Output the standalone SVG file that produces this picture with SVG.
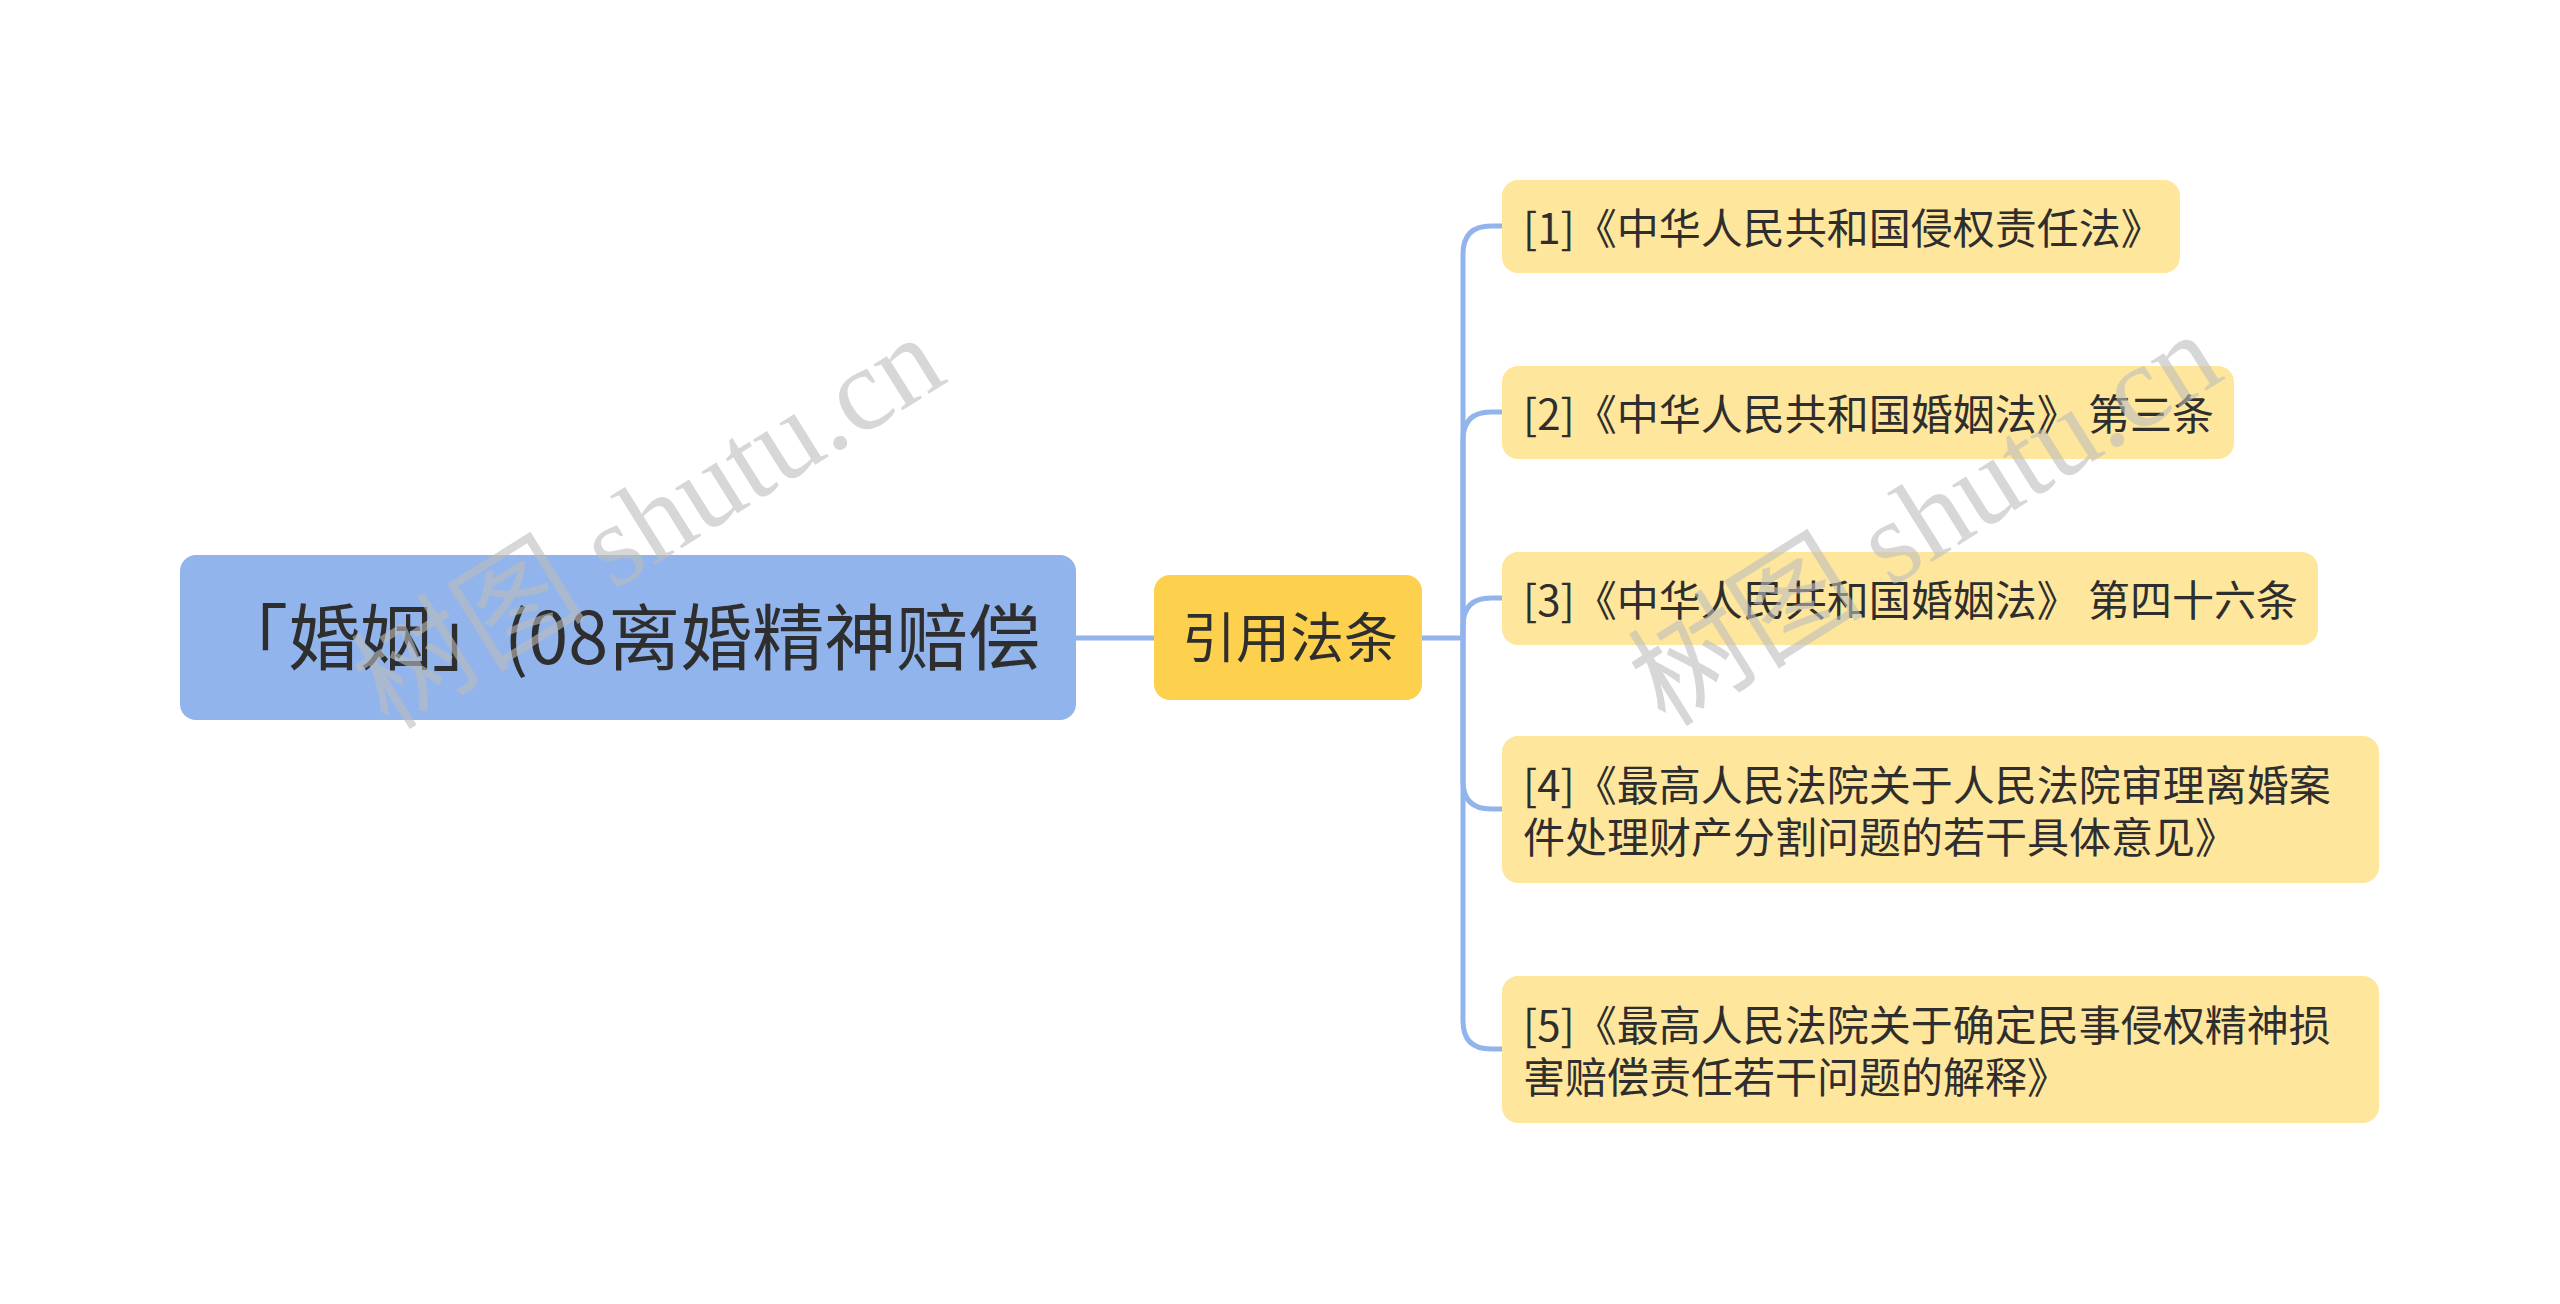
<svg xmlns="http://www.w3.org/2000/svg" width="2560" height="1304" viewBox="0 0 2560 1304">
<style>
.t{font-family:"Noto Sans CJK SC","Noto Sans",sans-serif;fill:#2e2e2e}
.leaf rect{fill:#fee69c}
.leaf text{font-size:42px}
.conn{fill:none;stroke:#92b4ec;stroke-width:5}
.wm{font-family:"Liberation Serif","Noto Sans CJK SC",serif;font-size:118px;fill:#bdbdbd;fill-opacity:0.6}
</style>
<rect width="2560" height="1304" fill="#ffffff"/>
<g id="connectors">
<path class="conn" d="M1076 638 H1154"/>
<path class="conn" d="M1422 638 H1463"/>
<path class="conn" d="M1463 638 V254 Q1463 226 1491 226 H1502"/>
<path class="conn" d="M1463 638 V440 Q1463 412 1491 412 H1502"/>
<path class="conn" d="M1463 638 V626 Q1463 598 1491 598 H1502"/>
<path class="conn" d="M1463 638 V781 Q1463 809 1491 809 H1502"/>
<path class="conn" d="M1463 638 V1021 Q1463 1049 1491 1049 H1502"/>
</g>
<g id="root">
<rect x="180" y="555" width="896" height="165" rx="16" fill="#92b4ec"/>
<text class="t" x="216" y="664" font-size="72">「婚姻」(08离婚精神赔偿</text>
</g>
<g id="mid">
<rect x="1154" y="575" width="268" height="125" rx="16" fill="#fdd14d"/>
<text class="t" x="1290" y="658" font-size="54" text-anchor="middle">引用法条</text>
</g>
<g id="leaf1" class="leaf">
<rect x="1502" y="180" width="678" height="93" rx="16"/>
<text class="t" x="1523" y="244">[1]《中华人民共和国侵权责任法》</text>
</g>
<g id="leaf2" class="leaf">
<rect x="1502" y="366" width="732" height="93" rx="16"/>
<text class="t" x="1523" y="430">[2]《中华人民共和国婚姻法》 第三条</text>
</g>
<g id="leaf3" class="leaf">
<rect x="1502" y="552" width="816" height="93" rx="16"/>
<text class="t" x="1523" y="616">[3]《中华人民共和国婚姻法》 第四十六条</text>
</g>
<g id="leaf4" class="leaf">
<rect x="1502" y="736" width="877" height="147" rx="16"/>
<text class="t" x="1523" y="801">[4]《最高人民法院关于人民法院审理离婚案</text>
<text class="t" x="1523" y="853">件处理财产分割问题的若干具体意见》</text>
</g>
<g id="leaf5" class="leaf">
<rect x="1502" y="976" width="877" height="147" rx="16"/>
<text class="t" x="1523" y="1041">[5]《最高人民法院关于确定民事侵权精神损</text>
<text class="t" x="1523" y="1093">害赔偿责任若干问题的解释》</text>
</g>
<g id="watermark">
<text class="wm" x="648" y="562" text-anchor="middle" transform="rotate(-32 648 522)">树图 shutu.cn</text>
<text class="wm" x="1925" y="559" text-anchor="middle" transform="rotate(-32 1925 519)">树图 shutu.cn</text>
</g>
</svg>
